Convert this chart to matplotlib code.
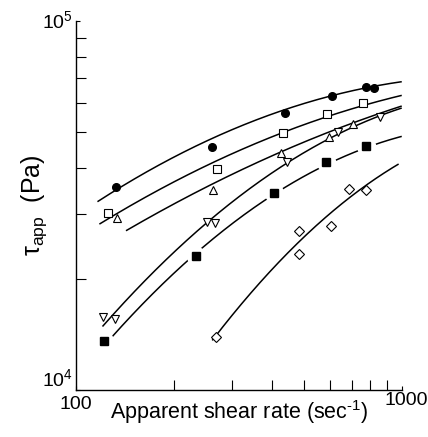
import numpy as np
import matplotlib
matplotlib.use("Agg")
import matplotlib.pyplot as plt
from matplotlib.ticker import NullFormatter, FixedLocator

plt.rcParams['font.family'] = ['Liberation Sans', 'DejaVu Sans']
plt.rcParams['mathtext.fontset'] = 'custom'
plt.rcParams['mathtext.rm'] = 'Liberation Sans'
plt.rcParams['mathtext.it'] = 'Liberation Sans:italic'

# measured points (shear rate 1/s, stress Pa)
circ_x = [132.7, 260.8, 437.6, 608.7, 775.6, 820.6]
circ_y = [35600, 45600, 56400, 62600, 66400, 65700]
osq_x = [125.6, 270.2, 430.5, 590.0, 757.5]
osq_y = [30100, 39700, 49800, 56000, 59800]
tup_x = [133.3, 262.6, 424.5, 597.0, 709.0]
tup_y = [29200, 34800, 43800, 48400, 52500]
tdn_x = [121.0, 131.7, 252.7, 266.9, 443.0, 637.6, 855.9]
tdn_y = [15800, 15600, 28600, 28300, 41600, 49900, 54800]
fsq_x = [121.9, 232.9, 404.7, 582.7, 773.8]
fsq_y = [13600, 23100, 34100, 41600, 45800]
dia_x = [268.8, 482.0, 482.0, 604.0, 687.7, 773.8]
dia_y = [13900, 27000, 23400, 27900, 35000, 34800]

# points along the fitted curves
fit1_x = [116.9, 223.7, 453, 645, 993]
fit1_y = [32700, 44200, 58600, 64300, 67800]
fit2_x = [118.5, 223.7, 422.5, 601, 993]
fit2_y = [28400, 38000, 49600, 56200, 62300]
fit3_x = [143, 251.7, 453, 709, 993]
fit3_y = [27100, 35400, 45600, 52600, 58900]
fit4_x = [121, 208.5, 443, 637.6, 993]
fit4_y = [15000, 24200, 41200, 50000, 57600]
fit5_x = [128.7, 248.7, 380, 614, 993]
fit5_y = [14000, 24200, 32700, 42500, 48100]
fit6_x = [262.6, 482, 815, 972]
fit6_y = [13700, 25000, 37500, 40500]

fig = plt.figure(figsize=(4.28, 4.37), dpi=100)
ax = fig.add_axes([76/428, 47/437, 326/428, 369/437])
ax.set_xscale('log')
ax.set_yscale('log')
ax.set_xlim(100, 1000)
ax.set_ylim(1e4, 1e5)

lw = 1.1
for fx, fy in [(fit1_x, fit1_y), (fit2_x, fit2_y), (fit3_x, fit3_y),
               (fit4_x, fit4_y), (fit5_x, fit5_y), (fit6_x, fit6_y)]:
    lx, ly = np.log10(fx), np.log10(fy)
    c = np.polyfit(lx, ly, 2)
    xx = np.linspace(lx[0], lx[-1], 200)
    ax.plot(10**xx, 10**np.polyval(c, xx), color='black', lw=lw, zorder=2)

ms = 5.5
ax.plot(circ_x, circ_y, 'o', ms=ms, mfc='black', mec='black', zorder=4)
ax.plot(osq_x, osq_y, 's', ms=ms, mfc='white', mec='black', mew=0.8, zorder=4)
ax.plot(tup_x, tup_y, '^', ms=ms+0.5, mfc='white', mec='black', mew=0.8, zorder=4)
ax.plot(tdn_x, tdn_y, 'v', ms=ms+0.5, mfc='white', mec='black', mew=0.8, zorder=4)
# white halo breaks the curve around the filled squares
ax.plot(fsq_x, fsq_y, 'o', ms=14, mfc='white', mec='none', zorder=3)
ax.plot(fsq_x, fsq_y, 's', ms=ms, mfc='black', mec='black', zorder=4)
ax.plot(dia_x, dia_y, 'D', ms=ms-0.5, mfc='white', mec='black', mew=0.8, zorder=4)

for s in ['top', 'right']:
    ax.spines[s].set_visible(False)
for s in ['left', 'bottom']:
    ax.spines[s].set_linewidth(1.0)

ax.xaxis.set_major_locator(FixedLocator([100, 1000]))
ax.yaxis.set_major_locator(FixedLocator([1e4, 1e5]))
ax.xaxis.set_minor_locator(FixedLocator(np.arange(200, 1000, 100)))
ax.yaxis.set_minor_locator(FixedLocator(np.arange(2e4, 1e5, 1e4)))
ax.xaxis.set_major_formatter(NullFormatter())
ax.yaxis.set_major_formatter(NullFormatter())
ax.xaxis.set_minor_formatter(NullFormatter())
ax.yaxis.set_minor_formatter(NullFormatter())
ax.tick_params(which='major', direction='in', length=3, width=0.8)
ax.tick_params(which='minor', direction='in', length=7, width=0.8)

fs = 14
ax.text(-0.01, 1.0, r'10$^5$', transform=ax.transAxes, ha='right', va='center', fontsize=fs)
ax.text(-0.01, 0.0, r'10$^4$', transform=ax.transAxes, ha='right', va='bottom', fontsize=fs)
ax.text(0.0, -0.015, '100', transform=ax.transAxes, ha='center', va='top', fontsize=fs)
ax.text(1.08, -0.005, '1000', transform=ax.transAxes, ha='right', va='top', fontsize=fs)

ax.set_xlabel('Apparent shear rate (sec$^{\u2010 1}$)', fontsize=15.5, labelpad=2)
ax.set_ylabel('\u03c4$_{\\mathrm{app}}$  (Pa)', fontsize=18, labelpad=16)

fig.savefig('out.png', dpi=100)
